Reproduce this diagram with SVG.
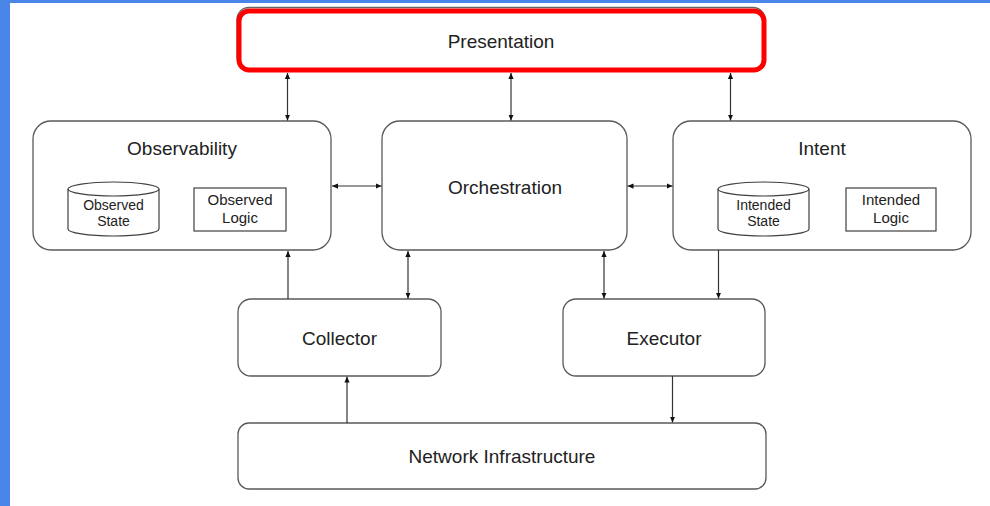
<svg xmlns="http://www.w3.org/2000/svg" width="990" height="506" viewBox="0 0 990 506">
<style>
.box{fill:#fff;stroke:#595959;stroke-width:1.3}
.inner{fill:#fff;stroke:#404040;stroke-width:1.2}
.t{font-family:"Liberation Sans",Arial,sans-serif;fill:#222;text-anchor:middle}
.big{font-size:19px}
.sm{font-size:14px}
.md{font-size:15px}
.c{fill:none;stroke:#333;stroke-width:1.2}
</style>
<defs>
<marker id="ah" viewBox="0 0 8 8" refX="8" refY="4" markerWidth="6" markerHeight="6" markerUnits="userSpaceOnUse" orient="auto-start-reverse">
<path d="M0,0.5 L8,4 L0,7.5 Z" fill="#111"/>
</marker>
</defs>
<rect x="0" y="0" width="990" height="506" fill="#fff"/>
<rect x="0" y="0" width="10" height="506" fill="#4a86e8"/>
<rect x="0" y="0" width="990" height="3" fill="#4a86e8"/>

<g id="presentation">
<rect x="237" y="7.5" width="528" height="61" rx="12" fill="#fff" stroke="#666" stroke-width="1.3"/>
<rect x="239" y="11" width="525" height="59" rx="10" fill="#fff" stroke="#ff0000" stroke-width="5"/>
<text class="t big" x="501" y="48">Presentation</text>
</g>

<g id="observability">
<rect class="box" x="33" y="121" width="298" height="129" rx="18"/>
<text class="t big" x="182" y="155">Observability</text>
<g id="observed-state">
<path class="inner" d="M68,189 L68,229 A45.5,7 0 0 0 159,229 L159,189"/>
<ellipse class="inner" cx="113.5" cy="189" rx="45.5" ry="7"/>
<text class="t sm" x="113.5" y="210">Observed</text>
<text class="t sm" x="113.5" y="226">State</text>
</g>
<g id="observed-logic">
<rect class="inner" x="194" y="188" width="92" height="43"/>
<text class="t md" x="240" y="205">Observed</text>
<text class="t md" x="240" y="223">Logic</text>
</g>
</g>

<g id="orchestration">
<rect class="box" x="382" y="121" width="245" height="129" rx="18"/>
<text class="t big" x="505" y="194">Orchestration</text>
</g>

<g id="intent">
<rect class="box" x="673" y="121" width="298" height="129" rx="18"/>
<text class="t big" x="822" y="155">Intent</text>
<g id="intended-state">
<path class="inner" d="M718,189 L718,229 A45.5,7 0 0 0 809,229 L809,189"/>
<ellipse class="inner" cx="763.5" cy="189" rx="45.5" ry="7"/>
<text class="t sm" x="763.5" y="210">Intended</text>
<text class="t sm" x="763.5" y="226">State</text>
</g>
<g id="intended-logic">
<rect class="inner" x="846" y="188" width="90" height="43"/>
<text class="t md" x="891" y="205">Intended</text>
<text class="t md" x="891" y="223">Logic</text>
</g>
</g>

<g id="collector">
<rect class="box" x="238" y="299" width="203" height="77" rx="13"/>
<text class="t big" x="339.5" y="345">Collector</text>
</g>

<g id="executor">
<rect class="box" x="563" y="299" width="202" height="77" rx="13"/>
<text class="t big" x="664" y="345">Executor</text>
</g>

<g id="network">
<rect class="box" x="238" y="423" width="528" height="66" rx="11"/>
<text class="t big" x="502" y="463">Network Infrastructure</text>
</g>

<g id="connectors">
<line class="c" x1="287.5" y1="73" x2="287.5" y2="120.5" marker-start="url(#ah)" marker-end="url(#ah)"/>
<line class="c" x1="511" y1="73" x2="511" y2="120.5" marker-start="url(#ah)" marker-end="url(#ah)"/>
<line class="c" x1="730.5" y1="73" x2="730.5" y2="120.5" marker-start="url(#ah)" marker-end="url(#ah)"/>
<line class="c" x1="332" y1="186" x2="381.5" y2="186" marker-start="url(#ah)" marker-end="url(#ah)"/>
<line class="c" x1="627.5" y1="186" x2="672.5" y2="186" marker-start="url(#ah)" marker-end="url(#ah)"/>
<line class="c" x1="288" y1="299" x2="288" y2="251" marker-end="url(#ah)"/>
<line class="c" x1="408" y1="251" x2="408" y2="298.5" marker-start="url(#ah)" marker-end="url(#ah)"/>
<line class="c" x1="604" y1="251" x2="604" y2="298.5" marker-start="url(#ah)" marker-end="url(#ah)"/>
<line class="c" x1="718.5" y1="250" x2="718.5" y2="298.5" marker-end="url(#ah)"/>
<line class="c" x1="347" y1="423" x2="347" y2="376.5" marker-end="url(#ah)"/>
<line class="c" x1="672.5" y1="376" x2="672.5" y2="422.5" marker-end="url(#ah)"/>
</g>
</svg>
